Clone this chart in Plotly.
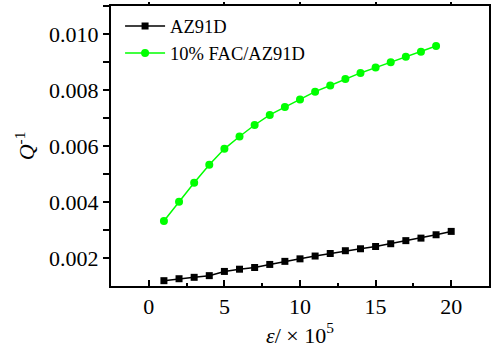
import plotly.graph_objects as go

strain = list(range(1, 21))
az91d = [0.00119, 0.00126, 0.00131, 0.00137, 0.00152, 0.00160, 0.00166, 0.00177, 0.00188, 0.00197,
         0.00207, 0.00216, 0.00226, 0.00233, 0.00241, 0.00251, 0.00262, 0.00271, 0.00283, 0.00295]
strain_fac = list(range(1, 20))
fac_az91d = [0.00332, 0.00401, 0.00469, 0.00533, 0.00590, 0.00634, 0.00675, 0.00711, 0.00739, 0.00766,
             0.00794, 0.00816, 0.00839, 0.00861, 0.00880, 0.00899, 0.00919, 0.00937, 0.00957]

FONT = "Liberation Serif"

fig = go.Figure()
fig.add_trace(go.Scatter(x=strain, y=az91d, mode="lines+markers", name="AZ91D",
                         line=dict(color="black", width=1.5),
                         marker=dict(symbol="square", size=7, color="black")))
fig.add_trace(go.Scatter(x=strain_fac, y=fac_az91d, mode="lines+markers", name="10% FAC/AZ91D",
                         line=dict(color="#00ff00", width=1.5),
                         marker=dict(symbol="circle", size=8, color="#00ff00")))
# invisible trace for top axis ticks
fig.add_trace(go.Scatter(x=[None], y=[None], xaxis="x2", showlegend=False, hoverinfo="skip"))

fig.update_layout(
    width=491, height=354,
    margin=dict(l=111, r=2, t=6, b=68, autoexpand=False),
    paper_bgcolor="white", plot_bgcolor="white",
    font=dict(family=FONT, size=22, color="black"),
    showlegend=True,
    legend=dict(x=0.024, y=0.995, xanchor="left", yanchor="top",
                font=dict(family=FONT, size=18.5, color="black"),
                bgcolor="rgba(0,0,0,0)", tracegroupgap=0, itemwidth=40),
    xaxis=dict(range=[-2.5, 22.5], tickvals=[0, 5, 10, 15, 20],
               ticks="inside", ticklen=6, tickwidth=1.5, tickcolor="black",
               tickfont=dict(family=FONT, size=22),
               minor=dict(tickvals=[-2.5, 2.5, 7.5, 12.5, 17.5, 22.5], ticks="inside", ticklen=3,
                          tickwidth=1.5, tickcolor="black"),
               showline=True, linecolor="black", linewidth=2, mirror=True,
               showgrid=False, zeroline=False, automargin=False,
               title=dict(text="<i>ε</i>/ × 10<sup>5</sup>", standoff=8,
                          font=dict(family=FONT, size=22))),
    xaxis2=dict(range=[-2.5, 22.5], overlaying="x", side="top", tickvals=[0, 5, 10, 15, 20],
                ticks="outside", ticklen=3, tickwidth=1.5, tickcolor="black", automargin=False,
                showticklabels=False, showgrid=False, zeroline=False, showline=False),
    yaxis=dict(range=[0.001, 0.011], tickvals=[0.002, 0.004, 0.006, 0.008, 0.010],
               tickformat=".3f",
               ticks="outside", ticklen=6, tickwidth=1.5, tickcolor="black",
               tickfont=dict(family=FONT, size=22),
               minor=dict(tickvals=[0.003, 0.005, 0.007, 0.009, 0.011], ticks="outside", ticklen=3,
                          tickwidth=1.5, tickcolor="black"),
               showline=True, linecolor="black", linewidth=2, mirror="allticks",
               showgrid=False, zeroline=False, automargin=False,
               title=dict(text="<i>Q</i><sup>-1</sup>", standoff=8,
                          font=dict(family=FONT, size=22))),
)

fig.write_html("out.html")
